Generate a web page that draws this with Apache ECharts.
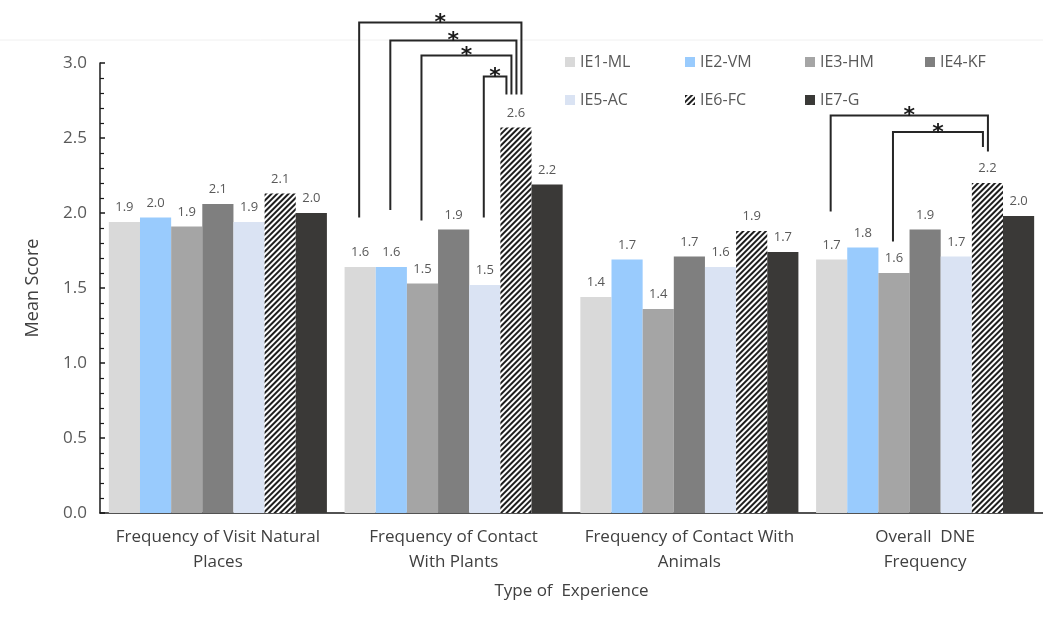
<!DOCTYPE html>
<html>
<head>
<meta charset="utf-8">
<script src="https://cdn.jsdelivr.net/npm/echarts@6/dist/echarts.min.js"></script>
<style>
  html, body { margin: 0; padding: 0; background: #fff; }
  #chart { width: 1043px; height: 617px; }
</style>
</head>
<body>
<div id="chart"></div>
<script>
const categories = [
  'Frequency of Visit Natural\nPlaces',
  'Frequency of Contact\nWith Plants',
  'Frequency of Contact With\nAnimals',
  'Overall  DNE\nFrequency'
];
const seriesNames = ['IE1-ML', 'IE2-VM', 'IE3-HM', 'IE4-KF', 'IE5-AC', 'IE6-FC', 'IE7-G'];
const ie1 = [1.94, 1.64, 1.44, 1.69];
const ie2 = [1.97, 1.64, 1.69, 1.77];
const ie3 = [1.91, 1.53, 1.36, 1.60];
const ie4 = [2.06, 1.89, 1.71, 1.89];
const ie5 = [1.94, 1.52, 1.64, 1.71];
const ie6 = [2.13, 2.57, 1.88, 2.20];
const ie7 = [2.00, 2.19, 1.74, 1.98];
const yTicks = [0, 0.5, 1.0, 1.5, 2.0, 2.5, 3.0];

// significance brackets: [category, from series, to series, top, from leg end, to leg end] (data units)
const brackets = [
  [1, 0, 5, 3.27, 1.97, 2.79],
  [1, 1, 5, 3.15, 2.02, 2.79],
  [1, 2, 5, 3.05, 1.95, 2.79],
  [1, 4, 5, 2.91, 1.97, 2.79],
  [3, 0, 5, 2.65, 2.01, 2.41],
  [3, 2, 5, 2.54, 1.81, 2.44]
];

const values = [ie1, ie2, ie3, ie4, ie5, ie6, ie7];
const colors = ['#d9d9d9', '#99cbfd', '#a5a5a5', '#7f7f7f', '#dae3f3', '#ffffff', '#3a3937'];
const font = 'Open Sans, sans-serif';
const gapPct = 0.075;

const chart = echarts.init(document.getElementById('chart'));

const series = seriesNames.map((name, i) => {
  const s = {
    name: name,
    type: 'bar',
    data: values[i],
    barGap: '0%',
    barCategoryGap: (gapPct * 100) + '%',
    itemStyle: { color: colors[i] },
    label: {
      show: true,
      position: 'top',
      distance: 8,
      fontSize: 13,
      fontFamily: font,
      color: '#595959',
      formatter: p => p.value.toFixed(1)
    }
  };
  if (name === 'IE6-FC') {
    s.itemStyle.decal = {
      symbol: 'rect',
      symbolSize: 1,
      dashArrayX: [1, 0],
      dashArrayY: [2, 2],
      rotation: -Math.PI / 4,
      color: '#1e1e1e',
      backgroundColor: '#ffffff'
    };
  }
  return s;
});

// one legend per item, laid out 4 per row
const legends = seriesNames.map((name, i) => ({
  left: 560 + (i % 4) * 120,
  top: 49 + Math.floor(i / 4) * 38,
  icon: 'rect',
  itemWidth: 10,
  itemHeight: 10,
  selectedMode: false,
  data: [name],
  textStyle: { fontSize: 16, fontFamily: font, color: '#595959' }
}));

chart.setOption({
  animation: false,
  color: colors,
  grid: { left: 100, right: 0, top: 63, bottom: 104 },
  legend: legends,
  xAxis: {
    type: 'category',
    data: categories,
    name: 'Type of  Experience',
    nameLocation: 'middle',
    nameGap: 70,
    nameMoveOverlap: false,
    nameTextStyle: { fontSize: 17, fontFamily: font, color: '#404040' },
    axisLine: { lineStyle: { color: '#1a1a1a', width: 1.5 } },
    axisTick: { show: false },
    axisLabel: { interval: 0, fontSize: 17, fontFamily: font, color: '#404040', lineHeight: 25, margin: 12 }
  },
  yAxis: {
    type: 'value',
    min: yTicks[0],
    max: yTicks[yTicks.length - 1],
    interval: 0.5,
    name: 'Mean Score',
    nameLocation: 'middle',
    nameGap: 58,
    nameTextStyle: { fontSize: 18, fontFamily: font, color: '#404040' },
    axisLine: { show: true, lineStyle: { color: '#1a1a1a', width: 1.5 } },
    axisTick: { show: true, inside: true, length: 5, lineStyle: { color: '#1a1a1a', width: 1.5 } },
    minorTick: { show: true, splitNumber: 5, length: 4, lineStyle: { color: '#1a1a1a', width: 1.2 } },
    splitLine: { show: false },
    axisLabel: { fontSize: 17, fontFamily: font, color: '#595959', margin: 13, formatter: v => v.toFixed(1) }
  },
  series: series
});

// draw significance brackets from data coordinates
const gridW = chart.getWidth() - 100;
const catW = gridW / categories.length;
const barW = catW * (1 - gapPct) / seriesNames.length;
function barX(cat, k) {
  const c = chart.convertToPixel({ xAxisIndex: 0 }, cat);
  return c + (k - (seriesNames.length - 1) / 2) * barW;
}
function py(v) { return chart.convertToPixel({ yAxisIndex: 0 }, v); }

const graphics = [
  { type: 'line', shape: { x1: 0, y1: 40, x2: 1043, y2: 40 }, style: { stroke: '#f0f0f0', lineWidth: 1 }, silent: true }
];
const perCat = {};
brackets.forEach(b => { perCat[b[0]] = (perCat[b[0]] || 0) + 1; });
const rankCount = {};
brackets.forEach(b => {
  const [cat, from, to, top, fromEnd, toEnd] = b;
  const n = perCat[cat];
  const rank = rankCount[cat] || 0;
  rankCount[cat] = rank + 1;
  const xL = barX(cat, from) - 1;
  const xR = barX(cat, to) + ((n - 1) / 2 - rank) * 5 - 2;
  const yT = py(top);
  graphics.push({
    type: 'polyline',
    shape: { points: [[xL, py(fromEnd)], [xL, yT], [xR, yT], [xR, py(toEnd)]] },
    style: { stroke: '#262626', lineWidth: 2, fill: null },
    silent: true
  });
  graphics.push({
    type: 'text',
    x: (xL + xR) / 2,
    y: yT + 12,
    style: { text: '*', fontSize: 22, fontWeight: 'bold', fontFamily: 'DejaVu Sans', fill: '#1a1a1a', align: 'center', verticalAlign: 'bottom' },
    silent: true
  });
});
chart.setOption({ graphic: graphics });
</script>
</body>
</html>
